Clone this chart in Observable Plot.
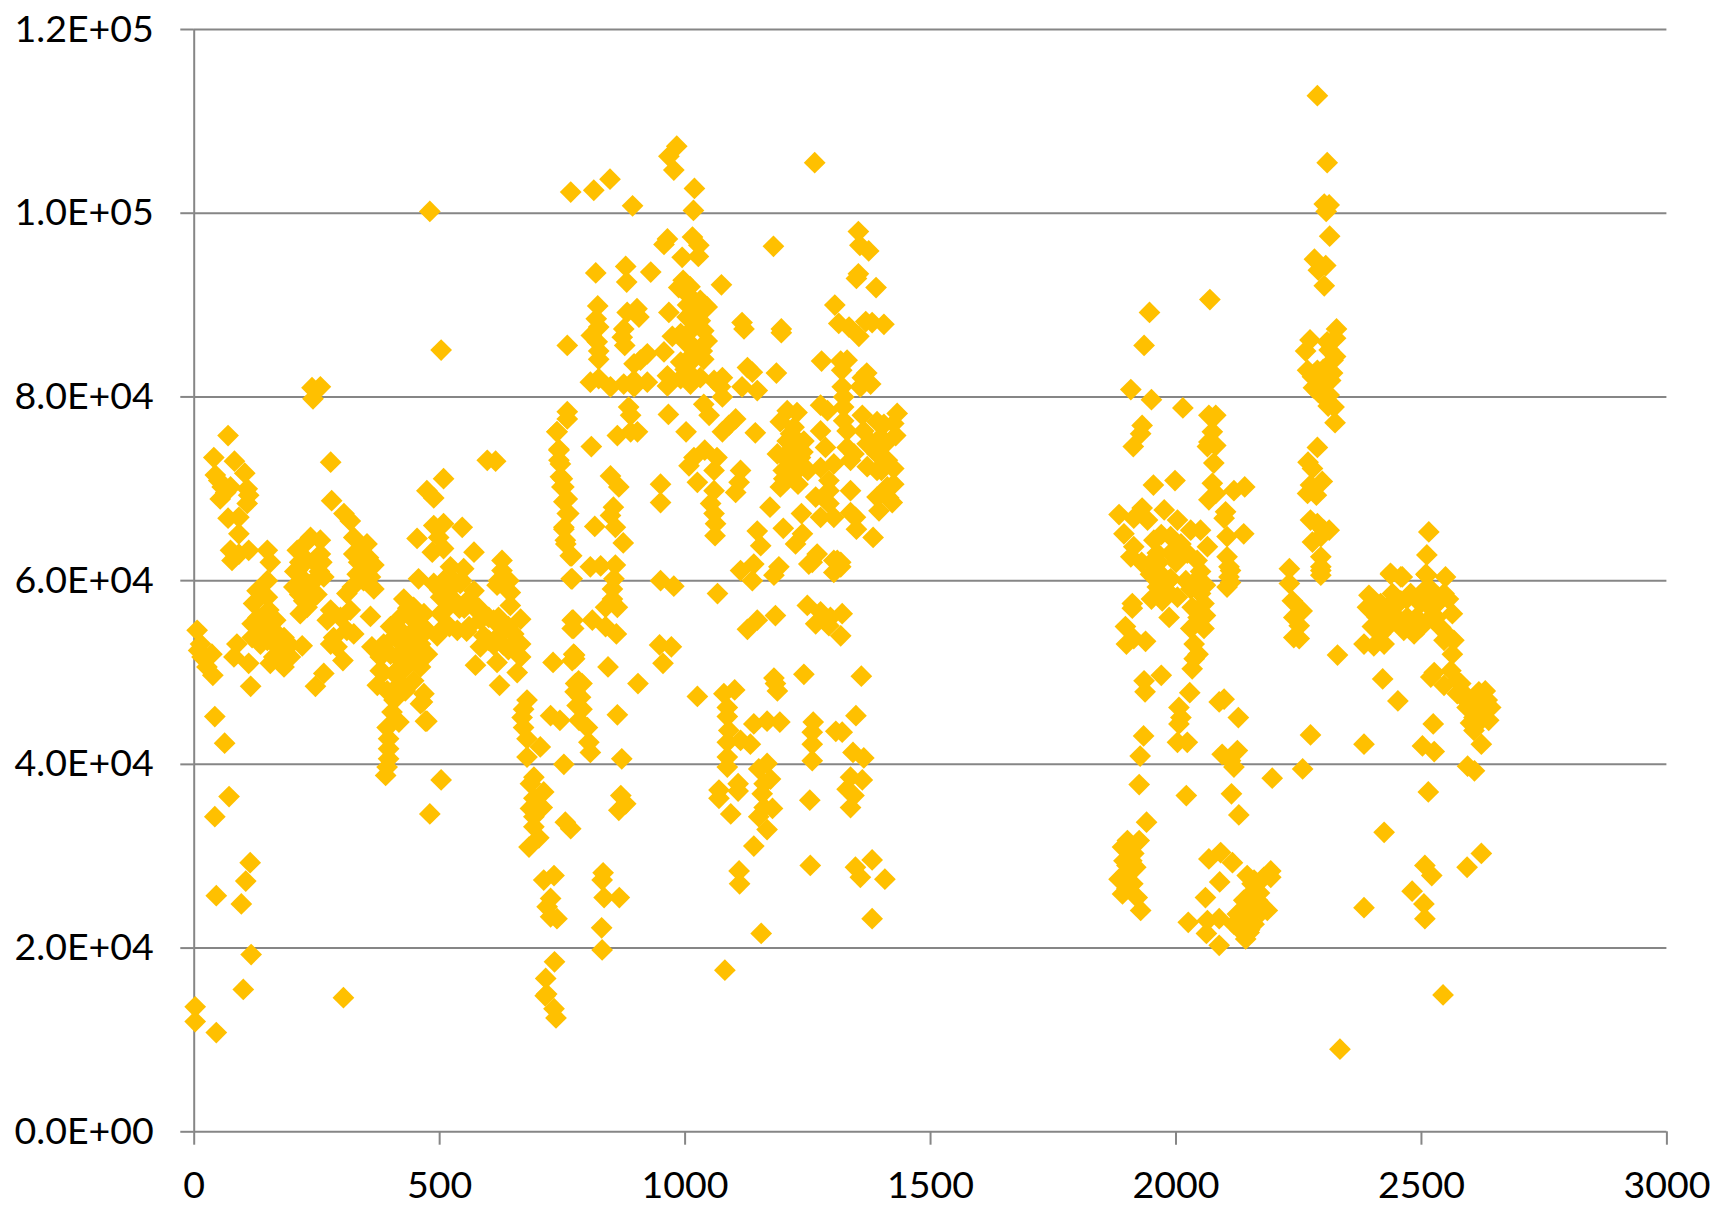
<!DOCTYPE html>
<html>
<head>
<meta charset="utf-8">
<script src="https://cdn.jsdelivr.net/npm/d3@7"></script>
<script src="https://cdn.jsdelivr.net/npm/@observablehq/plot@0.6"></script>
<style>
html,body{margin:0;padding:0;background:#fff}
svg{display:block}
</style>
</head>
<body>
<div id="chart"></div>
<script>
// [x, y in thousands], grouped by region of the chart
const farLeft = [[2,13.6],[2,12],[45,10.8],[6,54.6],[13,53.1],[9,52.4],[16,51.7],[36,52],[26,50.6],[38,49.7],[42,45.2],[62,42.3],[71,36.5],[42,34.3],[45,25.7],[114,29.3],[105,27.3],[96,24.8],[116,19.3],[100,15.5],[115,48.5],[69,75.8],[40,73.4],[82,73],[103,71.7],[43,71.5],[50,70.9],[57,70.2],[64,69.6],[53,68.9],[74,70.2],[108,70],[111,69.3],[108,68.4],[69,66.8],[91,66.9],[91,65.1],[77,62.2],[91,62.9],[111,63.3],[149,63.3],[155,62],[74,63.3],[87,53.1],[81,51.7],[111,51]];
const left200 = [[149,60],[128,58.9],[121,57.5],[149,58.2],[152,56.8],[118,55.3],[166,55.7],[135,54.6],[118,53.8],[149,53.5],[162,54.6],[135,53.1],[183,53.8],[162,51.7],[189,52.8],[183,50.6],[196,51.7],[220,52.9],[155,51],[210,63.3],[237,64.7],[257,64.4],[210,61.1],[230,62.2],[257,62.9],[203,59.3],[244,60],[264,60.4],[223,57.8],[216,56.4],[230,57.1],[220,60],[250,58.5],[240,81],[257,81.1],[242,79.8],[278,72.9],[280,68.7],[304,14.6],[278,56.8],[271,55.7],[298,56],[318,56.8],[284,53.8],[311,54.6],[325,54.2],[359,56.1],[291,52.8],[303,51.3],[278,53.1],[264,49.9],[247,48.5]];
const left350 = [[305,67.3],[318,66.5],[325,64.7],[352,64],[325,62.9],[345,62.6],[366,61.7],[332,60.7],[359,60.4],[366,59.1],[311,58.6],[322,59.3],[340,63.5],[350,61],[427,58],[420,56],[447,57.1],[447,55.7],[474,54.6],[420,54.6],[461,53.1],[434,53.1],[362,52.8],[386,53.1],[379,51.7],[413,51.7],[447,51.7],[461,50.6],[379,50.2],[407,49.9],[373,48.6],[393,48],[420,48.8],[447,49.1],[468,47.7],[461,46.6],[474,44.7],[407,47],[403,45.7],[417,44.6],[393,44],[396,42.8],[396,41.7],[396,40.6],[393,39.7],[390,38.8],[400,55],[430,50.5],[440,54],[480,100.2],[503,85.1],[480,34.6],[503,38.3],[471,44.7],[465,46.8]];
const left500 = [[454,64.6],[488,66],[508,66.2],[546,65.8],[570,63.1],[485,63.1],[508,63.5],[498,64.7],[474,69.8],[488,69],[508,71.1],[597,73.1],[614,73],[457,60.2],[488,59.7],[522,61.5],[549,61.3],[508,60],[542,59.7],[570,58.9],[502,58.2],[536,57.5],[570,57.1],[502,56.4],[468,56.4],[536,54.6],[583,55.7],[610,55.7],[665,55.8],[624,54.2],[651,54.2],[583,52.8],[665,53.1],[665,51.7],[617,51.1],[658,50],[573,50.8],[622,48.6],[627,62.2],[627,61.1],[620,60],[641,60],[617,59.5],[644,58.7],[644,57.3],[525,58],[550,57],[520,55],[555,54.5],[600,53.5],[640,52.5],[530,60]];
const column700 = [[760,78.4],[760,77.6],[739,76.2],[743,74.2],[743,73.1],[746,71.3],[749,70.2],[763,67.3],[753,68.6],[753,65.8],[756,64.4],[766,62.7],[768,60.2],[770,55.7],[770,54.8],[773,52],[770,51.3],[783,49.1],[776,47.9],[780,46.4],[678,47],[671,46],[668,45.1],[671,44],[678,42.8],[705,41.9],[678,40.8],[726,45.3],[745,44.8],[753,40],[692,38.6],[685,37.9],[712,37],[692,36.3],[685,35.2],[709,35.3],[692,34.3],[692,33.2],[702,32],[682,31],[756,33.7],[767,33],[733,27.9],[712,27.4],[726,25.4],[719,24.5],[726,23.4],[739,23.2],[734,18.5],[716,16.7],[718,15],[715,14.8],[733,13.4],[737,12.4]];
const column800 = [[807,61.5],[858,61.7],[828,61.6],[770,60.2],[855,60.2],[852,59.1],[852,58],[838,57.1],[862,57.1],[772,55.7],[773,54.8],[811,55.7],[838,55],[860,54.2],[775,51.9],[775,51.5],[731,51.1],[843,50.6],[904,48.8],[948,53],[972,52.8],[955,51],[950,60],[977,59.4],[862,45.4],[790,48.8],[777,48.8],[787,47.3],[790,46],[784,44.8],[801,44],[804,42.4],[807,41.3],[871,40.6],[869,36.6],[879,35.7],[865,35],[833,28.2],[831,27.4],[835,25.5],[866,25.5],[830,22.2],[831,19.8]];
const upper800 = [[983,107.3],[967,106.2],[977,104.7],[847,103.7],[767,102.3],[814,102.5],[1019,102.7],[893,100.8],[1017,100.3],[1015,97.4],[1028,96.5],[964,97.2],[957,96.6],[994,95.2],[1027,95.3],[818,93.5],[879,94.2],[881,92.5],[930,93.6],[996,92.7],[987,91.9],[1074,92.2],[1004,91.2],[1031,90.5],[1045,89.8],[1018,90.5],[822,89.9],[819,88.5],[824,87.6],[882,89.2],[902,89.6],[906,88.7],[967,89.2],[1004,88.7],[1031,88.3],[1011,87.2],[1038,87.2],[991,86.9],[974,86.6],[1045,86.1],[1011,85.8],[760,85.6],[809,86.7],[821,86],[824,85],[824,84.1],[875,87.4],[872,86.5],[877,85.6],[923,84.7],[957,84.9],[896,83.6],[909,84],[1004,84],[1038,84.1],[991,83.8],[807,81.6],[824,82],[848,81.1],[875,81.4],[896,81.8],[923,81.6],[896,81.1],[964,82.3],[964,81.2],[991,82],[1011,81.4],[1031,82.1],[1059,81.8],[1076,82.1],[1072,81.1],[1076,80],[1038,79.2],[885,78.9],[889,78],[966,78.1],[1049,78],[1103,77.6],[1089,76.9],[1076,76.2],[739,76.2],[1002,76.2],[889,76.2],[862,75.8],[903,76.2],[1143,76.1]];
const mid1000 = [[1040,74.2],[1065,73.4],[1018,73.4],[1008,72.5],[1025,70.7],[1059,72],[1113,72],[1110,70.7],[1103,69.6],[1059,69.8],[1052,68.4],[1059,67.3],[1062,66.2],[1061,64.9],[950,70.5],[950,68.5],[848,71.4],[865,70.2],[854,68],[848,67.1],[858,65.8],[816,65.9],[874,64.1],[809,74.6],[743,74.3],[746,72.7],[750,71.1],[753,70.2],[760,68.9],[760,67.3],[753,65.6],[757,64],[769,62.7],[1066,58.6],[1113,61.1],[1140,61.8],[1137,60],[1191,61.5],[1181,60.6],[1147,55.7],[1127,54.7],[1184,56.2],[1025,47.4],[1079,47.7],[1101,48.1],[1086,46.2],[1086,45.2],[1089,43.7],[1086,42.4],[1113,42.6],[1133,42.2],[1086,40.8],[1086,39.7],[1140,44.4],[1167,44.7],[1193,44.6],[1181,49.4],[1188,48],[1184,48.8],[1167,40.1],[1150,39.5],[1174,38.4],[1157,36.8],[1178,35.2],[1150,34.3],[1167,32.9],[1161,37.9],[1161,35.3],[1069,37.2],[1069,36.3],[1108,37.9],[1108,37.1],[1093,34.6],[1140,31.1],[1110,28.4],[1111,27],[1155,21.6],[1081,17.6]];
const upper1300 = [[1264,105.5],[1353,98],[1180,96.4],[1356,96.5],[1374,95.9],[1353,93.4],[1349,92.9],[1389,91.9],[1305,90],[1313,88],[1334,87.6],[1354,86.6],[1368,88.2],[1381,88.1],[1405,87.9],[1116,88.1],[1120,87.4],[1196,87.4],[1196,87],[1278,83.9],[1317,83.9],[1330,84],[1319,82.9],[1127,83.2],[1137,82.7],[1186,82.6],[1370,82.6],[1361,82.1],[1378,81.4],[1357,81.1],[1116,81.1],[1147,80.7],[1320,81.1],[1323,80],[1276,79.1],[1323,78.9],[1208,78.5],[1228,78.3],[1194,77.3],[1222,76.7],[1276,76.3],[1290,78.5],[1323,77.4],[1330,76.3],[1361,78],[1391,77.3],[1432,78.2],[1425,77.1],[1364,76.3],[1429,75.8],[1398,75.6],[1371,74.9],[1208,75.2],[1188,73.8],[1222,74.5],[1242,75.2],[1235,73.4],[1208,73.1],[1232,72.2],[1286,74.5],[1330,74.5],[1344,73.8],[1337,73.1],[1276,72.3],[1303,72.7],[1293,70.9],[1371,72.4],[1391,73.8],[1391,72],[1425,72.2],[1412,73.1],[1425,70.5],[1412,70.2],[1391,69.1],[1422,68.5],[1395,67.6],[1383,64.7]];
const lower1300 = [[1201,71.1],[1194,70.2],[1173,68],[1266,69.1],[1293,69.8],[1337,69.8],[1337,67.4],[1347,66.9],[1349,65.6],[1276,66.9],[1303,66.9],[1293,68.4],[1237,67.3],[1200,65.7],[1147,65.4],[1239,65.1],[1225,64],[1154,63.8],[1310,62.2],[1269,62.9],[1259,62],[1317,61.5],[1252,61.8],[1303,62.2],[1317,62],[1303,60.9],[1249,57.3],[1276,56.6],[1320,56.4],[1296,56],[1266,55.3],[1317,54],[1293,55.1],[1242,49.8],[1359,49.6],[1348,45.3],[1261,44.6],[1259,43.5],[1307,43.6],[1320,43.5],[1259,42.2],[1259,40.4],[1342,41.3],[1364,40.7],[1254,36.1],[1255,29],[1337,38.6],[1361,38.3],[1330,37.3],[1344,36.6],[1337,35.3],[1347,28.8],[1357,27.7],[1381,29.6],[1407,27.5],[1381,23.2]];
const right1900 = [[1946,89.2],[2069,90.6],[1935,85.6],[1908,80.8],[1950,79.7],[2014,78.8],[2067,78],[2081,78],[2074,76.2],[2067,75.1],[2081,74.7],[2064,74.6],[2077,72.8],[1931,76.9],[1928,76],[1913,74.6],[2074,70.6],[2067,68.8],[2081,69.5],[1954,70.4],[1998,70.9],[2118,69.8],[2140,70.2],[1884,67.2],[1894,65.1],[1931,67.9],[1914,66.8],[1976,67.7],[1942,66.6],[2003,66.6],[2030,65.5],[2050,65.5],[2101,67.5],[2098,66.8],[2138,65.1],[2104,64.8],[1914,63.7],[1908,62.6],[1955,64.4],[1962,63],[1989,64.8],[2010,64],[1989,63],[2043,62.2],[2023,63],[2064,63.7],[2104,62.6],[2111,61.1],[2108,60.4],[1948,60.7],[1969,60.7],[1989,60.2],[1962,59.3],[1982,58.9],[2003,58.2],[1972,57.8],[1986,56],[1911,57.5],[1911,57],[1897,55],[1899,53.1],[1914,53.7],[1938,53.4],[2030,59.1],[2060,59.5],[2050,58.6],[2033,57.1],[2057,57.5],[2060,56.2],[2057,54.8],[2030,54.8],[2037,53.1],[2037,51.5],[2033,50.4],[2108,61.5],[2111,59.8],[2104,59.3]];
const lower2000 = [[1925,37.8],[2021,36.6],[2113,36.8],[2128,34.5],[1940,33.7],[2028,47.8],[2006,46.2],[2010,45.1],[2006,44.4],[2003,42.4],[2023,42.4],[1934,43.1],[1927,40.9],[1935,49.1],[1937,47.9],[1970,49.7],[2088,46.8],[2098,47.1],[2127,45.1],[2094,41.1],[2125,41.5],[2118,39.7],[2111,40.4],[1901,31.7],[1925,31.7],[1891,31],[1914,30.3],[1894,29.5],[1918,28.8],[1904,28.3],[1884,27.5],[1904,27.2],[1891,25.9],[1921,25.5],[1928,24.1],[2067,29.7],[2091,30.4],[2115,29.3],[2089,27.2],[2060,25.5],[2025,22.8],[2064,23],[2062,21.6],[2088,23.2],[2088,20.3],[2145,27.9],[2159,27.4],[2193,28.4],[2179,27.7],[2193,27.7],[2152,25.9],[2138,25.2],[2166,25.2],[2186,24.1],[2159,24.1],[2125,23.7],[2145,23],[2118,22.6],[2159,22.6],[2142,21],[2149,21.7],[2196,38.5]];
const column2300 = [[2288,112.8],[2308,105.5],[2302,101],[2312,100.9],[2306,100.2],[2313,97.5],[2282,95],[2305,94.3],[2290,93.8],[2302,92.1],[2327,87.4],[2325,86.4],[2273,86.2],[2308,86],[2264,85],[2325,84.4],[2312,85.1],[2268,82.9],[2288,82.9],[2278,82.2],[2319,82.6],[2315,81.8],[2295,81.5],[2312,80.2],[2322,78.9],[2324,77.2],[2288,74.5],[2269,72.9],[2278,72.2],[2298,70.8],[2274,70.4],[2268,69.5],[2286,69.3],[2278,64.2],[2301,65.5],[2288,66.2],[2274,66.6],[2312,65.5],[2295,64.8],[2295,62.6],[2295,61.1],[2295,61.5],[2295,60.6],[2231,61.3],[2231,59.7],[2237,57.8],[2257,56.7],[2240,56],[2251,55.1],[2240,53.8],[2251,53.7],[2329,51.9],[2258,39.5],[2274,43.2],[2334,9]];
const right2500 = [[2515,65.3],[2511,62.8],[2437,60.8],[2461,60.4],[2511,60.6],[2549,60.4],[2393,58.4],[2390,57.1],[2410,56],[2417,57.5],[2437,60.7],[2458,60.4],[2441,58.6],[2430,57.1],[2458,57.8],[2478,58.6],[2505,58.9],[2509,60.7],[2546,58.6],[2471,56],[2498,57.5],[2532,57.5],[2563,56.4],[2437,55.3],[2417,54.2],[2464,54.6],[2485,54.2],[2383,53.1],[2403,52.9],[2424,53.1],[2539,54.9],[2519,56],[2566,53.5],[2563,52],[2546,53.5],[2526,50],[2519,49.5],[2546,48.6],[2421,49.3],[2452,46.9],[2573,49.1],[2587,47.7],[2607,47],[2617,47.9],[2634,47],[2593,46.2],[2620,44.8],[2607,43.7],[2622,42.2],[2524,44.4],[2502,42],[2526,41.4],[2594,39.8],[2608,39.3],[2514,37],[2383,42.2],[2424,32.6],[2544,14.9],[2383,24.4],[2507,29],[2521,27.9],[2481,26.2],[2505,24.8],[2507,23.2],[2593,28.8],[2622,30.3],[2560,50.2],[2580,48.8],[2600,46.6],[2627,46.2],[2607,45.1],[2641,46.2],[2637,44.8],[2573,47.7]];
// points hidden inside the densest blobs
const denseLeft = [[215,62],[225,60],[235,59.5],[245,62],[255,61],[225,64],[205,61],[240,58],[260,62],[215,58.5],[345,60],[355,62.5],[335,62],[410,54],[425,53],[440,52],[455,55],[435,57],[410,50],[385,50],[400,52],[450,53],[430,48],[465,55],[475,52],[500,59],[520,59],[540,57],[560,58],[580,57],[515,57],[495,54],[510,55],[545,60],[560,55],[590,54],[610,53],[630,53],[650,53],[600,56],[620,56],[640,55],[165,53],[175,52],[145,55],[130,56],[195,53]];
const denseMiddle = [[1000,86],[1015,84],[1025,85],[1005,90],[1020,89],[1035,85],[1000,83],[1020,82],[1040,90],[1010,92],[1210,74],[1225,72],[1240,74],[1215,76],[1200,72],[1250,72],[1230,70.5],[1400,72],[1410,75],[1380,75],[1405,77],[1415,69]];
const denseRight = [[1950,62],[1970,65],[1985,60],[2000,62],[2020,60],[1950,58],[1965,62],[2040,60],[2045,56],[2045,52],[2050,61],[1930,62],[1975,59],[2150,25],[2130,22],[2140,24],[2155,27],[2170,26],[2150,22],[2175,24],[1900,29],[1910,29.5],[1895,28],[1905,31],[1912,27],[1900,26.5],[2450,56],[2470,58],[2490,56],[2510,57.5],[2530,56],[2555,58],[2450,58],[2500,55],[2480,55],[2540,58],[2520,59],[2430,55],[2400,55],[2555,54],[2610,45.5],[2625,45],[2615,46.5],[2600,44.5],[2630,48],[2590,47],[2300,83],[2310,83],[2290,80.5],[2300,80],[2310,79],[2280,81],[2320,84]];

const regions = [farLeft,left200,left350,left500,column700,column800,upper800,mid1000,upper1300,lower1300,right1900,lower2000,column2300,right2500,denseLeft,denseMiddle,denseRight];
const table = regions.flat().map(([x,y]) => ({x, y: y*1000}));

const xTicks = [0,500,1000,1500,2000,2500,3000];
const yTicks = [0,20000,40000,60000,80000,100000,120000];
const sci = v => { const [m,e] = v.toExponential(1).split("e"); const s = e[0]==="-"?"-":"+"; return `${m}E${s}${e.replace(/[+-]/,"").padStart(2,"0")}`; };
const axisColor = "#868686";
const labelSize = 37.5;

const chart = Plot.plot({
  width: 1719, height: 1211,
  marginLeft: 193.7, marginRight: 52.6, marginTop: 29, marginBottom: 79.7,
  style: {fontFamily: "Lato, Carlito, sans-serif", fontSize: labelSize + "px", color: "#000", background: "#fff"},
  x: {domain: [0,3000]},
  y: {domain: [0,120000]},
  marks: [
    Plot.ruleY(yTicks, {stroke: axisColor, strokeWidth: 2}),
    Plot.ruleX([0], {stroke: axisColor, strokeWidth: 2}),
    Plot.axisX({ticks: xTicks, tickSize: 13.4, tickPadding: 26, stroke: axisColor, strokeWidth: 2, tickFormat: d => String(d), fill: "#000", label: null, fontSize: labelSize}),
    Plot.axisY({ticks: yTicks, tickSize: 13.4, tickPadding: 27, stroke: axisColor, strokeWidth: 2, tickFormat: sci, fill: "#000", label: null, fontSize: labelSize}),
    Plot.dot(table, {x: "x", y: "y", symbol: "diamond2", r: 9.8, fill: "#FFC000"})
  ]
});
document.getElementById("chart").appendChild(chart);
</script>
</body>
</html>
